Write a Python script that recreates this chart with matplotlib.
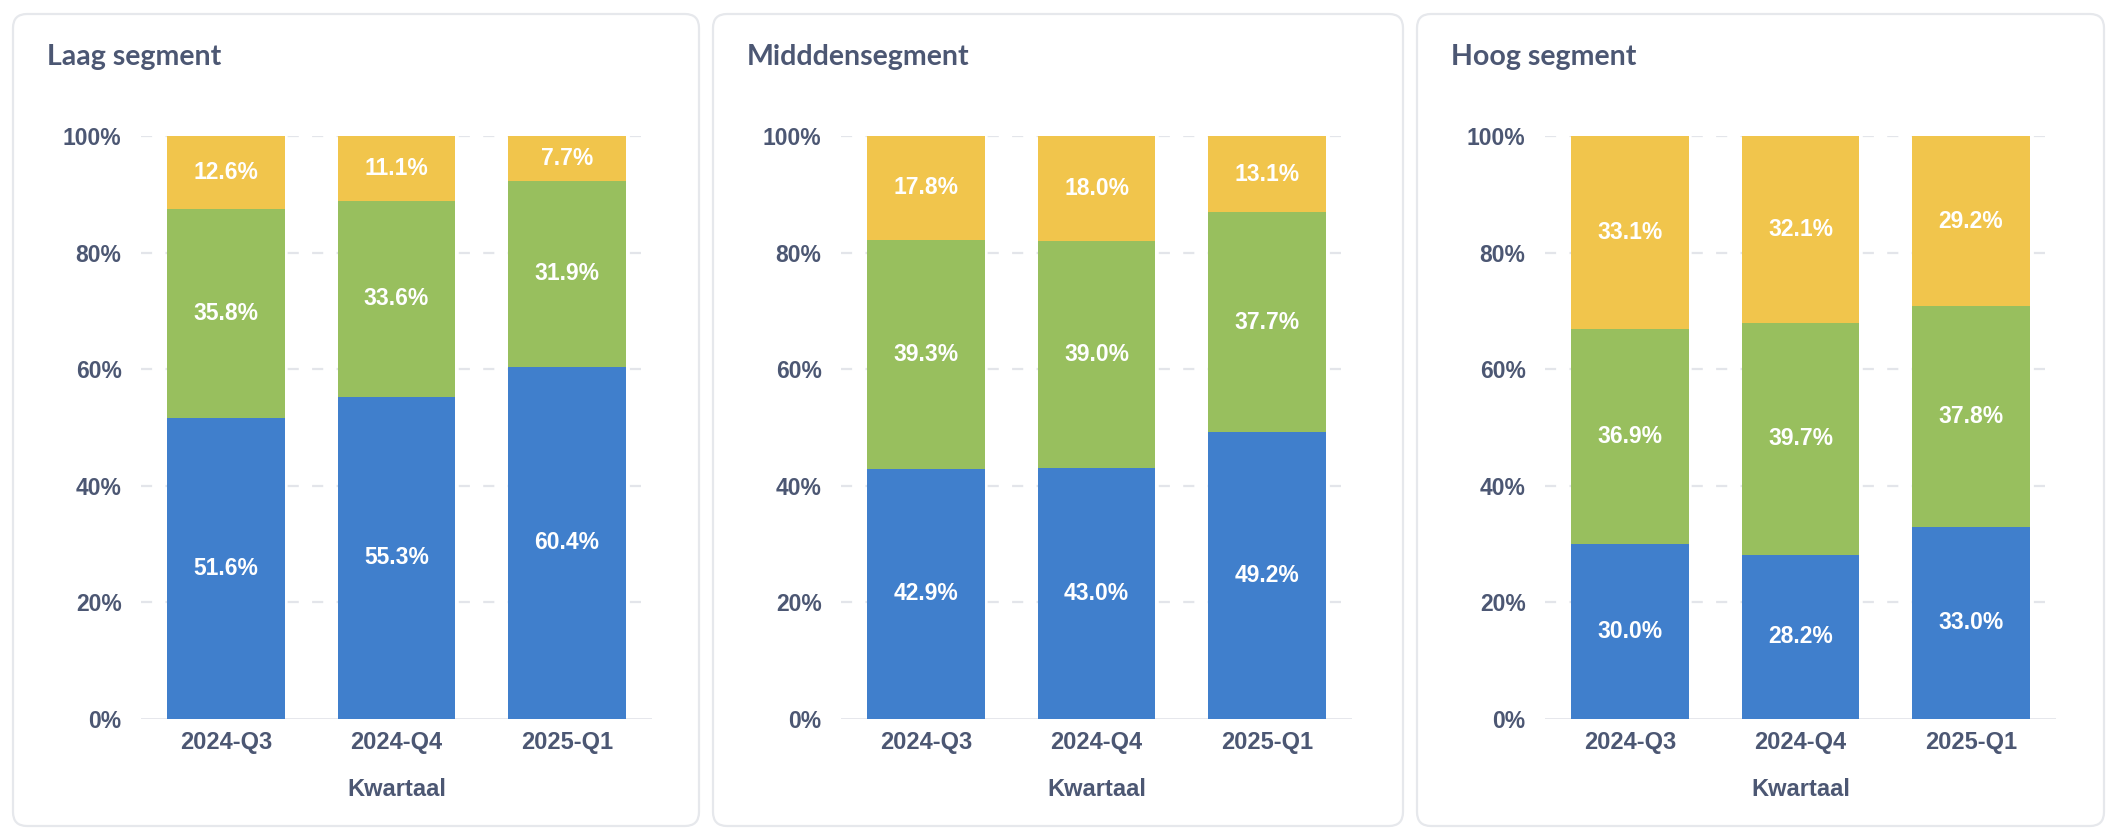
import numpy as np
import matplotlib.pyplot as plt
from matplotlib.patches import FancyBboxPatch

# %% data
quarters = ['2024-Q3', '2024-Q4', '2025-Q1']
panel_titles = ['Laag segment', 'Midddensegment', 'Hoog segment']
blue_vals = [[51.6, 55.3, 60.4], [42.9, 43.0, 49.2], [30.0, 28.2, 33.0]]
green_vals = [[35.8, 33.6, 31.9], [39.3, 39.0, 37.7], [36.9, 39.7, 37.8]]
yellow_vals = [[12.6, 11.1, 7.7], [17.8, 18.0, 13.1], [33.1, 32.1, 29.2]]
y_ticks = [0, 20, 40, 60, 80, 100]
x_label = 'Kwartaal'

# %% style
W, H = 2118, 836
TXT = '#4C5773'
COLORS = ['#407FCC', '#98BF5E', '#F1C54C']
GRID = '#E3E5EA'
ARIAL = ['Liberation Sans', 'DejaVu Sans']
plt.rcParams['font.family'] = ['Lato', 'DejaVu Sans']

fig = plt.figure(figsize=(W / 100, H / 100), dpi=100)
bg = fig.add_axes([0, 0, 1, 1])
bg.set_xlim(0, W)
bg.set_ylim(H, 0)
bg.axis('off')

def px_axes(x0, y0, x1, y1):
    # axes rectangle given in pixel coords, origin top-left
    return fig.add_axes([x0 / W, 1 - y1 / H, (x1 - x0) / W, (y1 - y0) / H])

card_left = [13, 713, 1417]
card_w = [686, 690, 687]

for i in range(3):
    cx = card_left[i]
    card = FancyBboxPatch((cx, 14), card_w[i], 812,
                          boxstyle='round,pad=0,rounding_size=14',
                          fc='white', ec='#E6E8EC', lw=1.6)
    bg.add_patch(card)
    bg.text(cx + 34, 57, panel_titles[i], fontsize=20.5, fontweight='bold',
            color=TXT, ha='left', va='center')

    off = cx - 13
    ax = px_axes(141 + off, 136, 652 + off, 719)
    ax.set_xlim(-0.5, 2.5)
    ax.set_ylim(0, 100)
    x = np.arange(len(quarters))
    b = np.array(blue_vals[i])
    g = np.array(green_vals[i])
    yv = np.array(yellow_vals[i])
    bottoms = [np.zeros(3), b, b + g]
    for vals, bot, col in zip([b, g, yv], bottoms, COLORS):
        ax.bar(x, vals, bottom=bot, width=0.69, color=col, zorder=3)
        for xi, v, bb in zip(x, vals, bot):
            ax.text(xi, bb + v / 2, f'{v:.1f}%', ha='center', va='center',
                    color='white', fontsize=16.5, fontweight='bold',
                    family=ARIAL, zorder=4)

    for t in y_ticks[1:]:
        ax.axhline(t, color=GRID, lw=1.6, ls=(0, (5, 6)), zorder=1)
    ax.axhline(0, color=GRID, lw=2, zorder=2, xmax=1.006)

    for s in ax.spines.values():
        s.set_visible(False)
    ax.set_yticks(y_ticks)
    ax.set_yticklabels([f'{t}%' for t in y_ticks])
    ax.set_xticks(x)
    ax.set_xticklabels(quarters)
    ax.tick_params(length=0, colors=TXT, labelsize=16.5, pad=14)
    ax.tick_params(axis='x', pad=9, labelsize=17)
    for lab in ax.get_xticklabels() + ax.get_yticklabels():
        lab.set_fontweight('bold')
        lab.set_family(ARIAL)
    ax.set_xlabel(x_label, fontsize=17, fontweight='bold', color=TXT,
                  family=ARIAL, labelpad=17)

fig.savefig('out.png', dpi=100, facecolor='white')
